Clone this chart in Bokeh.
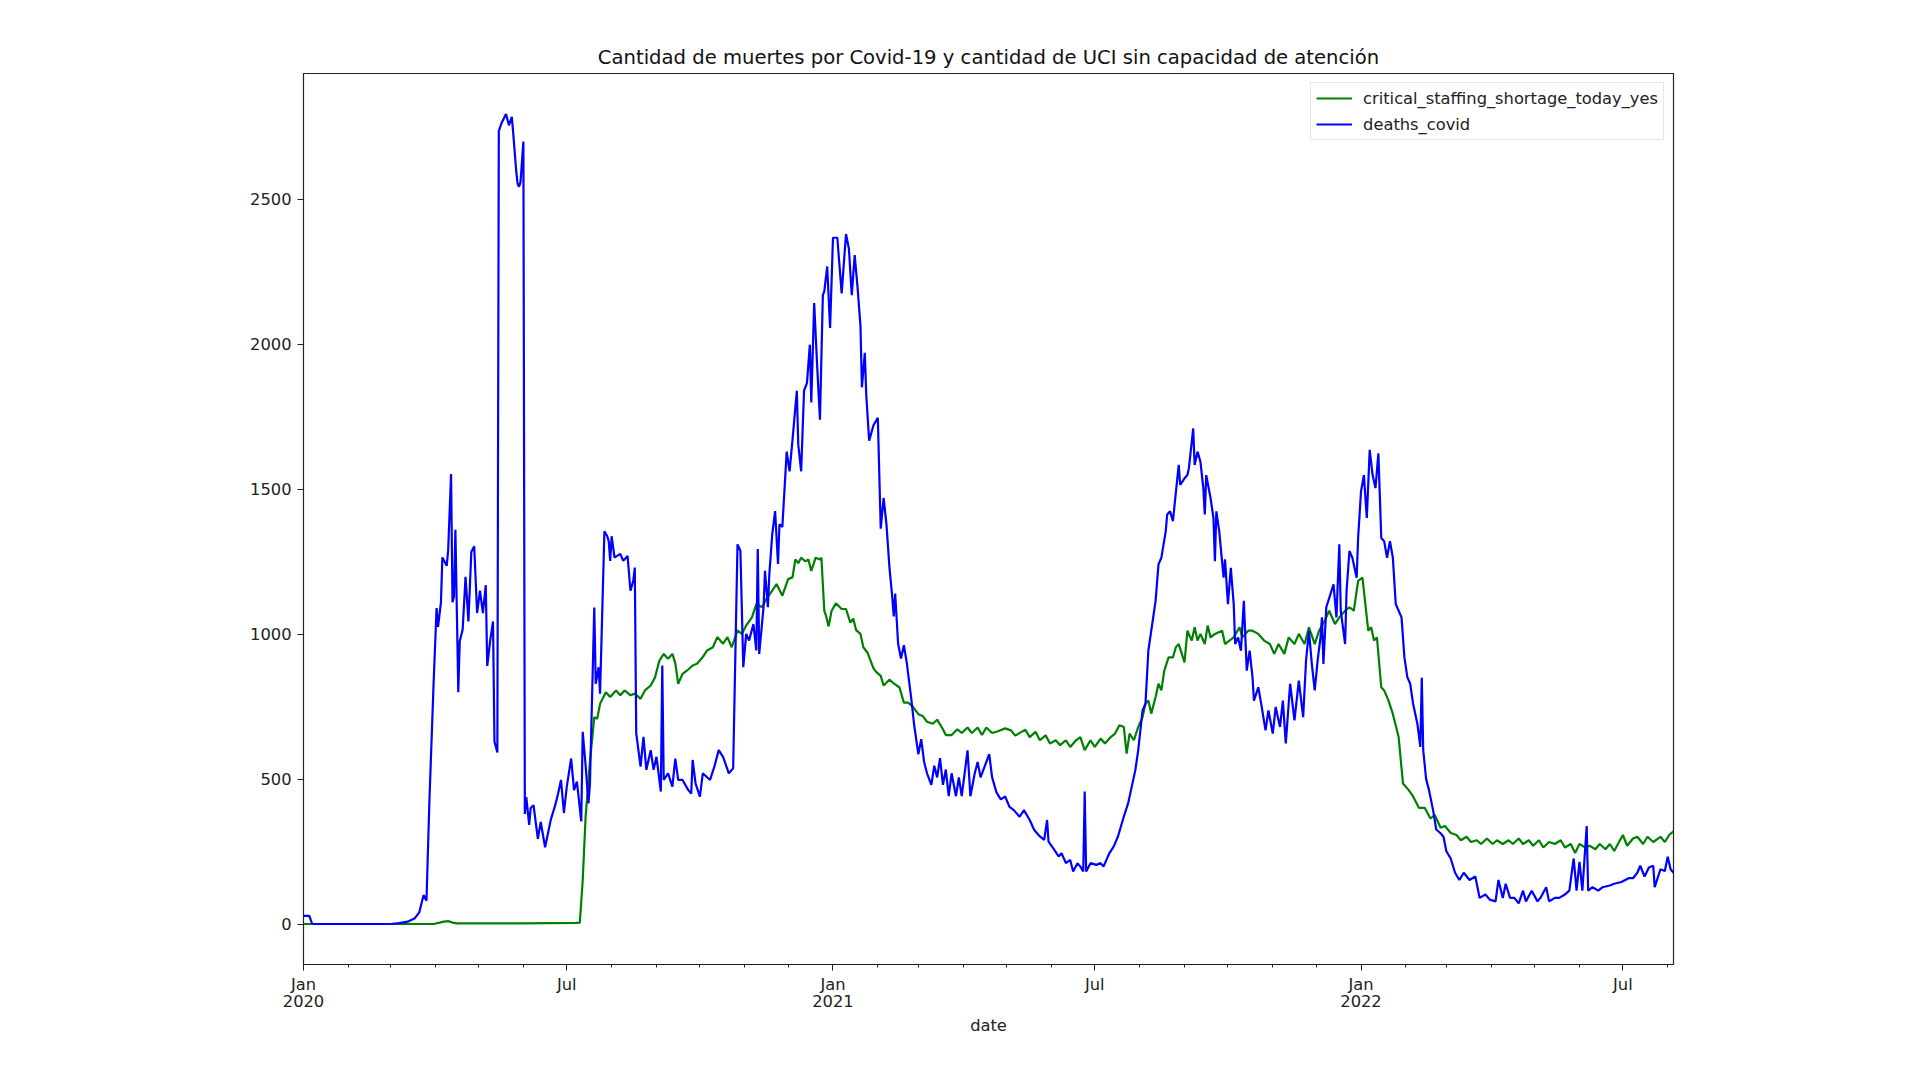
import pandas as pd
from bokeh.plotting import figure
from bokeh.models import Range1d, FixedTicker
from bokeh.embed import file_html
from bokeh.resources import INLINE

START = pd.Timestamp("2020-01-01")

# day = days since 2020-01-01
deaths_day = [0, 4, 6, 30, 60, 66, 72, 77, 80, 83, 85, 87, 90, 92, 93, 95, 96, 99, 100,
              102, 103, 104, 105, 107, 108, 110, 112, 114, 116, 118, 120, 122, 124, 126,
              127, 129, 131, 132, 134, 135, 137, 140, 142, 144, 145, 147, 148, 149, 150,
              152, 153, 154, 156, 157, 159, 162, 164, 167, 171, 174, 176, 178, 180, 182,
              185, 187, 189, 192, 193, 195, 197, 198, 201, 202, 204, 205, 208, 210, 211,
              212, 213, 215, 219, 221, 224, 226, 228, 229, 230, 233, 235, 237, 240, 242,
              244, 247, 248, 249, 252, 255, 257, 259, 262, 266, 268, 269, 271, 274, 276,
              281, 284, 287, 290, 294, 297, 298, 300, 302, 304, 306, 308, 311, 313, 314,
              315, 318, 319, 321, 322, 324, 326, 328, 329, 331, 334, 336, 338, 341, 342,
              344, 346, 348, 350, 351, 353, 355, 357, 359, 360, 362, 364, 366, 369, 372,
              375, 377, 379, 381, 383, 385, 386, 388, 389, 391, 394, 397, 399, 401, 403,
              405, 407, 408, 409, 411, 413, 415, 417, 420, 422, 425, 427, 429, 431, 434,
              436, 438, 440, 442, 444, 446, 448, 451, 453, 455, 459, 461, 464, 466, 468,
              471, 474, 476, 479, 482, 485, 488, 491, 495, 498, 502, 505, 509, 512, 514,
              515, 519, 522, 524, 527, 530, 532, 535, 537, 539, 540, 541, 544, 548, 551,
              553, 557, 560, 563, 567, 570, 572, 575, 577, 580, 582, 584, 586, 589, 591,
              593, 596, 597, 599, 601, 602, 605, 606, 609, 611, 612, 615, 616, 618, 620,
              622, 623, 624, 627, 629, 630, 631, 633, 636, 637, 639, 641, 643, 644, 646,
              648, 650, 652, 654, 656, 657, 660, 662, 665, 667, 670, 672, 675, 677, 679,
              682, 685, 688, 691, 693, 695, 697, 699, 701, 703, 704, 705, 707, 712, 714,
              716, 717, 720, 721, 723, 725, 728, 729, 731, 733, 735, 737, 739, 741, 743,
              745, 747, 749, 751, 753, 755, 759, 761, 763, 765, 767, 770, 772, 773, 774,
              776, 778, 781, 783, 786, 788, 790, 793, 796, 799, 802, 806, 810, 813, 817,
              820, 824, 826, 829, 831, 834, 837, 840, 843, 845, 849, 853, 855, 859, 861,
              865, 868, 872, 875, 878, 880, 882, 884, 887, 888, 891, 895, 898, 903, 906,
              911, 916, 919, 922, 924, 927, 930, 933, 934, 938, 941, 943, 945, 947]
deaths_covid = [28, 28, 0, 0, 0, 3, 8, 20, 40, 100, 80, 420, 840, 1090, 1025, 1110, 1265, 1236, 1290,
                1553, 1110, 1130, 1360, 800, 976, 1015, 1198, 1044, 1284, 1303, 1073, 1150, 1073, 1169,
                890, 976, 1044, 630, 592, 2736, 2765, 2795, 2756, 2785, 2727, 2600, 2554, 2544, 2560,
                2700, 380, 438, 342, 400, 410, 294, 352, 265, 361, 410, 450, 497, 383, 474,
                571, 462, 491, 354, 663, 548, 416, 485, 1092, 829, 886, 795, 1355, 1338, 1320,
                1253, 1338, 1264, 1277, 1253, 1270, 1150, 1185, 1230, 658, 543, 646, 532, 600, 532,
                577, 457, 892, 497, 520, 474, 571, 497, 497, 462, 450, 566, 485, 439, 520,
                497, 543, 600, 577, 520, 537, 795, 1310, 1288, 886, 1001, 978, 1035, 944, 1294,
                932, 1093, 1219, 1093, 1207, 1344, 1425, 1242, 1379, 1370, 1630, 1562, 1670, 1840, 1655,
                1562, 1840, 1866, 1999, 1800, 2143, 1932, 1740, 2170, 2183, 2269, 2057, 2368, 2368, 2176,
                2381, 2330, 2170, 2308, 2196, 2064, 1852, 1971, 1826, 1668, 1721, 1747, 1364, 1470, 1377,
                1232, 1127, 1061, 1140, 968, 916, 962, 902, 783, 691, 586, 638, 559, 520, 480,
                546, 506, 572, 480, 533, 441, 520, 441, 506, 441, 599, 441, 520, 559, 506,
                546, 586, 506, 454, 430, 440, 404, 393, 370, 393, 359, 325, 302, 290, 359,
                284, 256, 233, 244, 210, 221, 181, 210, 198, 181, 457, 181, 210, 204, 210,
                198, 244, 267, 302, 370, 416, 462, 531, 600, 737, 760, 943, 1012, 1115, 1241,
                1264, 1355, 1413, 1424, 1390, 1440, 1584, 1515, 1538, 1549, 1572, 1710, 1584, 1630, 1595,
                1504, 1413, 1549, 1470, 1401, 1252, 1424, 1355, 1195, 1258, 1104, 1229, 1104, 966, 989,
                943, 1115, 874, 943, 851, 771, 817, 760, 668, 737, 657, 749, 680, 771, 623,
                829, 703, 840, 714, 909, 1012, 897, 806, 909, 989, 1058, 897, 1093, 1172, 1058,
                1310, 1081, 966, 1149, 1287, 1264, 1195, 1333, 1493, 1549, 1401, 1636, 1549, 1504, 1624,
                1332, 1321, 1264, 1321, 1264, 1104, 1058, 920, 852, 829, 760, 690, 611, 850, 600,
                500, 462, 388, 326, 313, 301, 251, 226, 177, 152, 177, 152, 164, 90, 102,
                84, 78, 152, 90, 139, 90, 90, 71, 115, 78, 115, 78, 90, 127, 78,
                90, 90, 102, 115, 226, 115, 214, 115, 338, 115, 127, 115, 127, 133, 139,
                145, 158, 158, 177, 201, 164, 195, 201, 127, 189, 183, 232, 189, 177]

staff_day = [0, 60, 90, 97, 100, 103, 106, 150, 188, 191, 193, 195, 198, 201, 203, 205, 209,
             212, 216, 219, 222, 226, 229, 233, 236, 240, 243, 246, 249, 252, 255, 257, 259,
             262, 265, 269, 272, 276, 279, 283, 286, 290, 293, 296, 300, 303, 306, 310, 313,
             317, 320, 324, 327, 331, 335, 338, 340, 342, 344, 347, 349, 351, 354, 357, 358,
             360, 361, 363, 365, 368, 372, 375, 378, 380, 382, 385, 387, 390, 394, 396, 399,
             401, 405, 408, 412, 415, 418, 421, 425, 428, 431, 435, 438, 442, 444, 448, 452,
             455, 459, 462, 466, 469, 472, 476, 480, 485, 489, 492, 496, 499, 502, 506, 509,
             513, 516, 520, 523, 527, 530, 534, 537, 540, 544, 547, 551, 554, 558, 561, 564,
             567, 569, 571, 574, 577, 580, 582, 584, 586, 589, 591, 593, 595, 598, 601, 603,
             605, 609, 611, 614, 616, 618, 620, 623, 625, 627, 630, 635, 637, 640, 643, 647,
             649, 653, 656, 660, 664, 668, 671, 674, 678, 681, 685, 688, 692, 695, 699, 702,
             706, 709, 713, 716, 720, 723, 726, 729, 732, 734, 736, 738, 740, 742, 745, 747,
             750, 753, 757, 760, 764, 767, 771, 775, 779, 782, 786, 789, 793, 797, 800, 804,
             807, 811, 814, 818, 822, 825, 829, 833, 836, 840, 843, 847, 850, 854, 857, 861,
             865, 869, 872, 876, 879, 882, 886, 889, 893, 896, 900, 903, 906, 910, 912, 915,
             919, 922, 926, 929, 933, 938, 941, 944, 947]
staffing_shortage_yes = [0, 0, 0, 8, 10, 5, 2, 2, 4, 5, 150, 370, 560, 714, 708, 760, 800,
                         783, 806, 789, 806, 789, 795, 777, 806, 823, 851, 909, 932, 915, 932, 900, 829,
                         863, 874, 892, 898, 921, 944, 955, 990, 967, 990, 955, 1013, 1001, 1030, 1058, 1104,
                         1093, 1122, 1150, 1173, 1133, 1190, 1196, 1258, 1245, 1264, 1251, 1258, 1218, 1264, 1258, 1264,
                         1080, 1067, 1027, 1080, 1107, 1087, 1087, 1040, 1054, 1014, 1001, 955, 935, 882, 869, 856,
                         823, 843, 830, 816, 764, 764, 751, 724, 718, 698, 691, 705, 672, 652, 652, 672,
                         659, 678, 659, 678, 652, 678, 659, 665, 675, 668, 650, 662, 670, 645, 663, 634,
                         651, 623, 634, 617, 634, 611, 634, 645, 600, 634, 611, 640, 623, 645, 657, 686,
                         680, 588, 657, 634, 680, 714, 760, 771, 726, 783, 829, 806, 874, 920, 920, 955,
                         966, 903, 1012, 978, 1024, 978, 1001, 966, 1030, 989, 1001, 1012, 966, 978, 989, 1024,
                         989, 1012, 1012, 1001, 978, 966, 932, 966, 932, 989, 966, 1001, 966, 1024, 966, 1012,
                         1047, 1081, 1035, 1058, 1081, 1093, 1081, 1184, 1195, 1104, 1012, 1024, 978, 989, 817, 806,
                         771, 725, 645, 485, 462, 440, 401, 401, 364, 376, 332, 338, 314, 307, 289, 301,
                         283, 289, 276, 295, 276, 289, 276, 289, 276, 295, 276, 289, 270, 289, 264, 283,
                         276, 289, 264, 276, 245, 276, 264, 270, 258, 276, 258, 276, 252, 289, 307, 270,
                         295, 301, 276, 301, 283, 301, 283, 307, 320]

tick_dates = ["2020-01-01", "2020-07-01", "2021-01-01", "2021-07-01", "2022-01-01", "2022-07-01"]
tick_labels = ["Jan\n2020", "Jul", "Jan\n2021", "Jul", "Jan\n2022", "Jul"]
y_ticks = [0, 500, 1000, 1500, 2000, 2500]

FONT = "DejaVu Sans"


def to_dates(days):
    return START + pd.to_timedelta(days, unit="D")


def ms(d):
    return pd.Timestamp(d).value // 10**6


death_dates = to_dates(deaths_day)
staff_dates = to_dates(staff_day)

lo = min(min(deaths_covid), min(staffing_shortage_yes))
hi = max(max(deaths_covid), max(staffing_shortage_yes))
pad = 0.05 * (hi - lo)

p = figure(width=1900, height=1060, x_axis_type="datetime",
           output_backend="svg", toolbar_location=None,
           title="Cantidad de muertes por Covid-19 y cantidad de UCI sin capacidad de atención",
           x_axis_label="date",
           min_border_left=303, min_border_right=227, min_border_top=73, min_border_bottom=96)
p.x_range = Range1d(min(death_dates[0], staff_dates[0]), max(death_dates[-1], staff_dates[-1]))
p.y_range = Range1d(lo - pad, hi + pad)

p.line(staff_dates, staffing_shortage_yes, color="green", line_width=2.2,
       legend_label="critical_staffing_shortage_today_yes")
p.line(death_dates, deaths_covid, color="blue", line_width=2.2, legend_label="deaths_covid")

p.grid.visible = False
p.outline_line_color = "#222222"
p.outline_line_width = 1.2
p.background_fill_color = "white"
p.border_fill_color = "white"

p.title.align = "center"
p.title.text_font = FONT
p.title.text_font_style = "normal"
p.title.text_font_size = "19.6px"
p.title.text_color = "#111111"

month_ticks = [ms(d) for d in pd.date_range("2020-01-01", "2022-08-01", freq="MS")]
major = [ms(d) for d in tick_dates]
p.xaxis.ticker = FixedTicker(ticks=major, minor_ticks=month_ticks)
p.xaxis.major_label_overrides = {t: lab for t, lab in zip(major, tick_labels)}
p.yaxis.ticker = FixedTicker(ticks=y_ticks)

for ax in (p.xaxis, p.yaxis):
    ax.axis_line_color = None
    ax.major_tick_in = 0
    ax.major_tick_out = 6
    ax.minor_tick_in = 0
    ax.minor_tick_out = 3
    ax.major_tick_line_color = "#222222"
    ax.minor_tick_line_color = "#222222"
    ax.major_label_text_font = FONT
    ax.major_label_text_font_size = "16.3px"
    ax.major_label_text_line_height = 0.9
    ax.major_label_text_color = "#222222"
    ax.axis_label_text_font = FONT
    ax.axis_label_text_font_size = "16.3px"
    ax.axis_label_text_font_style = "normal"
    ax.axis_label_text_color = "#222222"
p.yaxis.minor_tick_out = 0
p.xaxis.major_label_standoff = 4
p.xaxis.axis_label_standoff = 2
p.yaxis.major_label_standoff = 6

leg = p.legend[0]
leg.location = "top_right"
leg.margin = 9
leg.padding = 5
leg.spacing = 6
leg.glyph_width = 36
leg.glyph_height = 20
leg.label_height = 20
leg.label_standoff = 11
leg.label_text_font = FONT
leg.label_text_font_size = "16.3px"
leg.label_text_color = "#222222"
leg.border_line_color = "#cccccc"
leg.background_fill_alpha = 0.8

open("out.html", "w").write(file_html(p, INLINE))
